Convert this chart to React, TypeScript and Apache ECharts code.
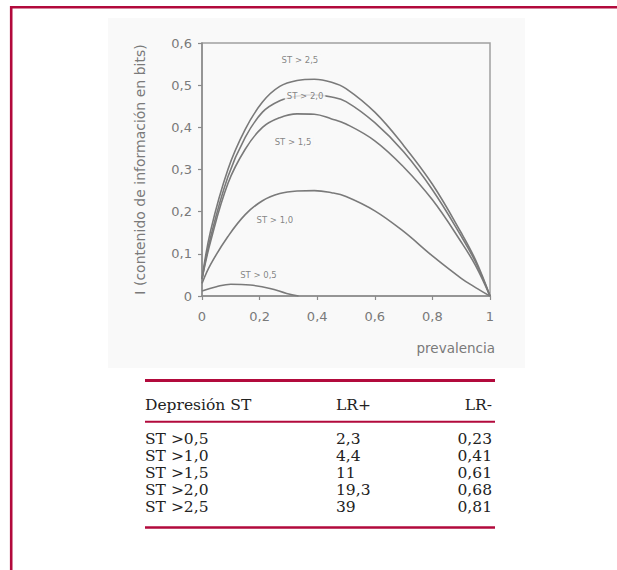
import React, { useEffect, useRef } from 'react';
import * as echarts from 'echarts';

// Prevalence sample points (x) shared by the main curves
const xVals = [0, 0.03, 0.09, 0.15, 0.21, 0.27, 0.33, 0.39, 0.45, 0.5, 0.6, 0.7, 0.8, 0.9, 0.95, 1];
// Information content (bits) per threshold
const st25 = [0.04, 0.155, 0.3, 0.395, 0.46, 0.497, 0.511, 0.514, 0.507, 0.492, 0.436, 0.357, 0.265, 0.15, 0.085, 0];
const st20 = [0.04, 0.14, 0.283, 0.376, 0.436, 0.463, 0.474, 0.477, 0.472, 0.461, 0.411, 0.342, 0.252, 0.142, 0.08, 0];
const st15 = [0.04, 0.13, 0.267, 0.348, 0.4, 0.423, 0.432, 0.431, 0.42, 0.408, 0.368, 0.306, 0.228, 0.128, 0.072, 0];
const st10 = [0.03, 0.075, 0.141, 0.193, 0.226, 0.243, 0.249, 0.25, 0.245, 0.236, 0.202, 0.153, 0.095, 0.042, 0.02, 0];
const xVals05 = [0, 0.05, 0.1, 0.167, 0.236, 0.294, 0.335];
const st05 = [0.012, 0.022, 0.028, 0.026, 0.018, 0.006, 0];

const curveNames = ['ST > 2,5', 'ST > 2,0', 'ST > 1,5', 'ST > 1,0', 'ST > 0,5'];
// label anchor positions (data coordinates)
const labelX = [0.34, 0.358, 0.316, 0.253, 0.196];
const labelY = [0.56, 0.474, 0.366, 0.18, 0.05];

// Table
const tableHeader = ['Depresión ST', 'LR+', 'LR-'];
const tableRows = ['ST >0,5', 'ST >1,0', 'ST >1,5', 'ST >2,0', 'ST >2,5'];
const lrPlus = ['2,3', '4,4', '11', '19,3', '39'];
const lrMinus = ['0,23', '0,41', '0,61', '0,68', '0,81'];

const RED = '#b20a3c';
const PANEL = '#f9f9f9';
const AXIS_TXT = '#7a7a7a';
const SERIF = '"DejaVu Serif", serif';
const SANS = '"DejaVu Sans", sans-serif';

const fmt = (v: number) => String(Math.round(v * 10) / 10).replace('.', ',');

function buildOption() {
  const mk = (name: string, data: number[][]) => ({
    type: 'line',
    name,
    smooth: 0.4,
    showSymbol: false,
    symbol: 'none',
    lineStyle: { color: '#7a7a7a', width: 1.6 },
    data,
    z: 2,
  });
  const lineSeries: any[] = [st25, st20, st15, st10].map((vals, i) =>
    mk(curveNames[i], vals.map((v, j) => [xVals[j], v]))
  );
  lineSeries.push(mk(curveNames[4], st05.map((v, j) => [xVals05[j], v])));

  const labelSeries = {
    type: 'scatter',
    symbolSize: 0,
    silent: true,
    z: 5,
    data: curveNames.map((n, i) => ({ name: n, value: [labelX[i], labelY[i]] })),
    label: {
      show: true,
      position: 'inside',
      formatter: '{b}',
      fontFamily: SANS,
      fontSize: 8.5,
      color: '#666',
      backgroundColor: PANEL,
      padding: [1, 2],
    },
  };

  const graphics: any[] = [];
  graphics.push({ type: 'rect', z: -10, shape: { x: 108, y: 18, width: 417, height: 350 }, style: { fill: PANEL } });
  graphics.push({ type: 'line', shape: { x1: 11, y1: 7.2, x2: 617, y2: 7.2 }, style: { stroke: RED, lineWidth: 2.6 } });
  graphics.push({ type: 'line', shape: { x1: 11.2, y1: 6, x2: 11.2, y2: 570 }, style: { stroke: RED, lineWidth: 2.6 } });
  graphics.push({
    type: 'text', x: 495, y: 348,
    style: { text: 'prevalencia', fontFamily: SANS, fontSize: 13.5, fill: AXIS_TXT, textAlign: 'right', textVerticalAlign: 'middle' },
  });
  graphics.push({ type: 'line', shape: { x1: 145, y1: 380.5, x2: 495, y2: 380.5 }, style: { stroke: RED, lineWidth: 3 } });
  graphics.push({ type: 'line', shape: { x1: 145, y1: 421.7, x2: 495, y2: 421.7 }, style: { stroke: RED, lineWidth: 2 } });
  graphics.push({ type: 'line', shape: { x1: 145, y1: 527.5, x2: 495, y2: 527.5 }, style: { stroke: RED, lineWidth: 2.6 } });
  const colX = [145, 336, 492];
  const colAlign = ['left', 'left', 'right'];
  const txt = (s: string, x: number, y: number, align: string) => ({
    type: 'text', x, y,
    style: { text: s, fontFamily: SERIF, fontSize: 15.5, fill: '#222', textAlign: align, textVerticalAlign: 'middle' },
  });
  tableHeader.forEach((h, c) => graphics.push(txt(h, colX[c], 405, colAlign[c])));
  const rowY0 = 439;
  const rowStep = 17;
  tableRows.forEach((r, i) => {
    const y = rowY0 + i * rowStep;
    graphics.push(txt(r, colX[0], y, 'left'));
    graphics.push(txt(lrPlus[i], colX[1], y, 'left'));
    graphics.push(txt(lrMinus[i], colX[2], y, 'right'));
  });

  return {
    animation: false,
    backgroundColor: '#ffffff',
    grid: {
      left: 202, right: 617 - 490, top: 43, bottom: 570 - 296,
      show: true, borderColor: '#a0a0a0', borderWidth: 1.5, backgroundColor: 'transparent',
    },
    xAxis: {
      type: 'value', min: 0, max: 1, interval: 0.2,
      axisLine: { show: true, lineStyle: { color: '#8a8a8a', width: 1.5 } },
      axisTick: { show: true, length: 4, lineStyle: { color: '#8a8a8a', width: 1.2 } },
      splitLine: { show: false },
      axisLabel: { margin: 14, fontFamily: SANS, fontSize: 13, color: AXIS_TXT, formatter: (v: number) => fmt(v) },
    },
    yAxis: {
      type: 'value', min: 0, max: 0.6, interval: 0.1,
      name: 'I (contenido de información en bits)',
      nameLocation: 'middle', nameGap: 55,
      nameTextStyle: { fontFamily: SANS, fontSize: 14, color: AXIS_TXT },
      axisLine: { show: true, lineStyle: { color: '#8a8a8a', width: 1.5 } },
      axisTick: { show: true, length: 4, lineStyle: { color: '#8a8a8a', width: 1.2 } },
      splitLine: { show: false },
      axisLabel: { margin: 10, fontFamily: SANS, fontSize: 13, color: AXIS_TXT, formatter: (v: number) => fmt(v) },
    },
    series: [...lineSeries, labelSeries],
    graphic: graphics,
  };
}

export default function App() {
  const ref = useRef<HTMLDivElement>(null);
  useEffect(() => {
    if (!ref.current) return;
    const chart = echarts.init(ref.current, null, { renderer: 'svg' });
    chart.setOption(buildOption() as any);
    return () => chart.dispose();
  }, []);
  return (
    <div
      ref={ref}
      style={{ position: 'absolute', left: 0, top: 0, width: 617, height: 570, background: '#fff' }}
    />
  );
}
